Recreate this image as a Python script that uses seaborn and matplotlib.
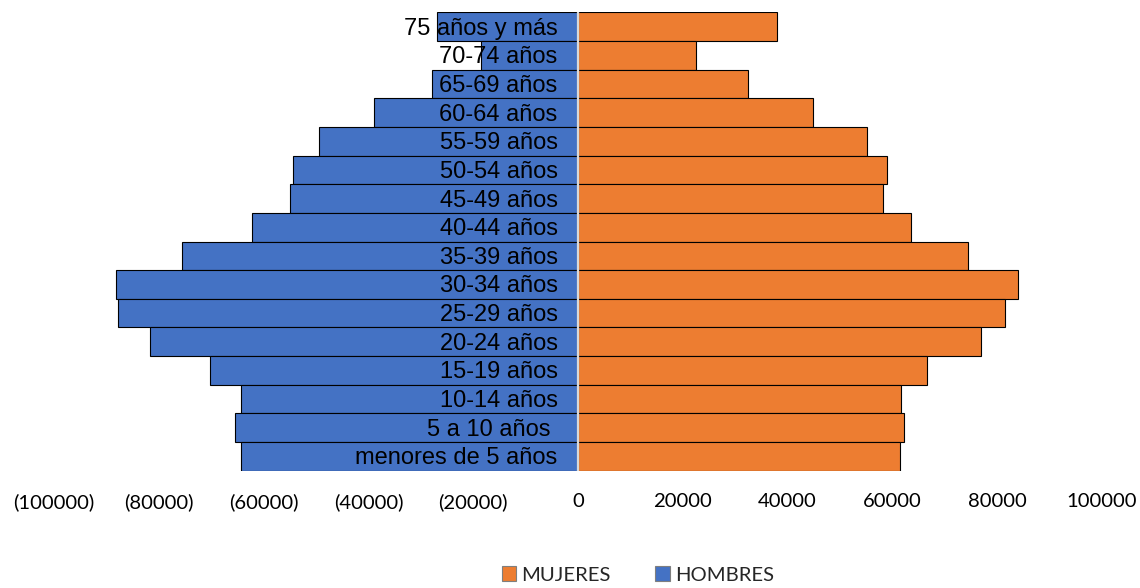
import matplotlib
matplotlib.use("Agg")
import matplotlib.pyplot as plt
from matplotlib.patches import Patch
from matplotlib.ticker import FuncFormatter, MultipleLocator
import pandas as pd
import seaborn as sns

# Age groups, oldest at the top
grupos = [
    "75 años y más", "70-74 años", "65-69 años", "60-64 años", "55-59 años",
    "50-54 años", "45-49 años", "40-44 años", "35-39 años", "30-34 años",
    "25-29 años", "20-24 años", "15-19 años", "10-14 años", "5 a 10 años ",
    "menores de 5 años",
]
hombres = [26900, 18500, 27800, 39000, 49400, 54400, 55000, 62300, 75600,
           88100, 87700, 81700, 70200, 64300, 65400, 64300]
mujeres = [37900, 22500, 32400, 44900, 55200, 59000, 58300, 63600, 74400,
           83900, 81500, 77000, 66600, 61700, 62300, 61500]

AZUL = "#4472C4"
NARANJA = "#ED7D31"

df = pd.DataFrame({"grupo": grupos,
                   "hombres": [-v for v in hombres],
                   "mujeres": mujeres})

sns.set_theme(style="white")
plt.rcParams["font.family"] = ["Lato", "DejaVu Sans"]

fig = plt.figure(figsize=(11.4, 5.88), dpi=100)
ax = fig.add_axes([54 / 1140, 1 - 470.7 / 588, (1102 - 54) / 1140, (470.7 - 12.3) / 588])

sns.barplot(data=df, y="grupo", x="hombres", order=grupos, color=AZUL,
            saturation=1, width=1.0, edgecolor="black", linewidth=0.8, ax=ax)
sns.barplot(data=df, y="grupo", x="mujeres", order=grupos, color=NARANJA,
            saturation=1, width=1.0, edgecolor="black", linewidth=0.8, ax=ax)

ax.set_xlim(-100000, 100000)
ax.set_ylim(len(grupos) - 0.5, -0.5)
ax.axvline(0, color="#D9D9D9", lw=1.6, zorder=5)

# Category names sit just left of the centre line, inside the bars
ax.set_yticks([])
ax.set_ylabel("")
ax.set_xlabel("")
for i, g in enumerate(grupos):
    ax.text(-3900, i + 0.07, g, ha="right", va="center", fontsize=17,
            family=["Liberation Sans", "DejaVu Sans"], color="black", zorder=6)

ax.xaxis.set_major_locator(MultipleLocator(20000))
ax.xaxis.set_major_formatter(
    FuncFormatter(lambda v, p: f"({abs(int(v))})" if v < 0 else f"{int(v)}"))
ax.tick_params(axis="x", length=0, pad=16, labelsize=14.6, colors="black")
for s in ax.spines.values():
    s.set_visible(False)

handles = [Patch(facecolor=NARANJA, edgecolor="#7F7F7F", lw=0.8, label="MUJERES"),
           Patch(facecolor=AZUL, edgecolor="#7F7F7F", lw=0.8, label="HOMBRES")]
fig.legend(handles=handles, loc="center", bbox_to_anchor=(638 / 1140, 1 - 575 / 588),
           ncol=2, frameon=False, fontsize=14.6, handlelength=0.7, handleheight=0.7,
           handletextpad=0.25, columnspacing=2.2)

fig.savefig("out.png", dpi=100)
